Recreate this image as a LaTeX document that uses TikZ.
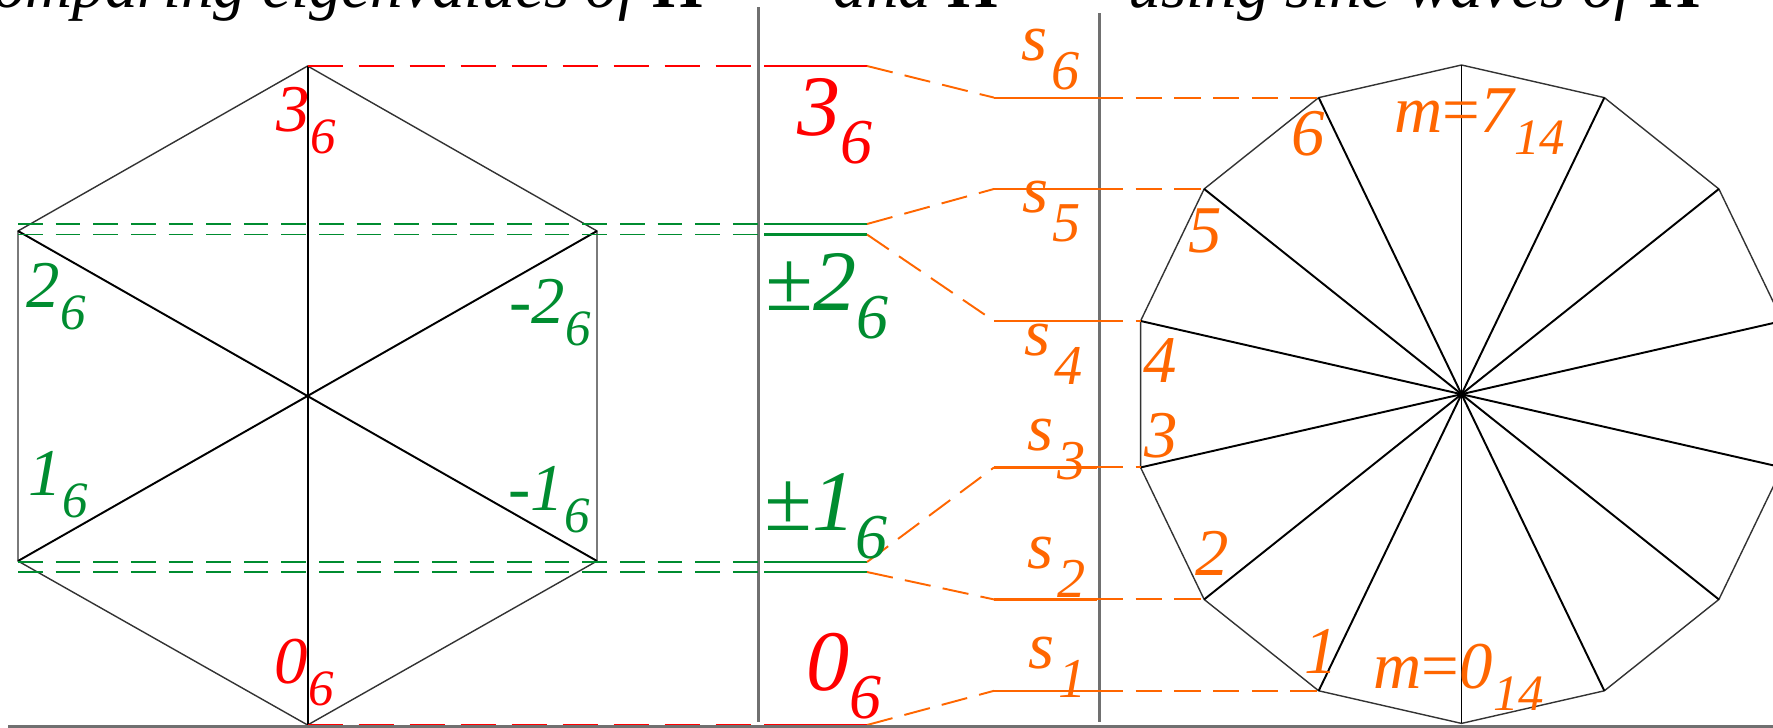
\documentclass[tikz,border=0pt]{standalone}
\usepackage{fontspec}
\setmainfont{Liberation Serif}
\usepackage{tikz}
\usetikzlibrary{positioning}
\definecolor{evred}{RGB}{255,0,0}
\definecolor{evgreen}{RGB}{0,140,48}
\definecolor{sineorange}{RGB}{255,102,0}
\definecolor{rulegray}{RGB}{112,112,112}

\newcommand{\lsub}[1]{\raisebox{-2.25mm}{\fontsize{14.5}{15}\selectfont #1}}
\newcommand{\msub}[1]{\raisebox{-2.8mm}{\fontsize{18.2}{19}\selectfont #1}}
\newcommand{\ssub}[1]{\kern0.06em\raisebox{-2.9mm}{\fontsize{16}{17}\selectfont #1}}

\begin{document}
\begin{tikzpicture}[x=0.01cm, y=-0.01cm,
    polyedge/.style={black!80, line width=0.4pt},
    spoke/.style={black, line width=0.55pt},
    divider/.style={rulegray, line width=0.6pt},
    evlevel/.style={line width=0.6pt},
    reddash/.style={evred, line width=0.5pt, dash pattern=on 10pt off 4.5pt},
    greendash/.style={evgreen, line width=0.5pt, dash pattern=on 7pt off 3.7pt},
    orangedash/.style={sineorange, line width=0.55pt, dash pattern=on 7.5pt off 3.5pt},
    lab/.style={inner sep=0pt, anchor=base west, font=\fontsize{19}{20}\selectfont\itshape},
    biglab/.style={inner sep=0pt, anchor=base west, font=\fontsize{24.5}{26}\selectfont\itshape},
    headtext/.style={inner sep=0pt, font=\fontsize{18.5}{20}\selectfont\itshape}
]
\useasboundingbox (0,0) rectangle (1773,727);
\clip (0,0) rectangle (1773,727);

% title, cut off at the top
\node[headtext, anchor=base east] (head1) at (704,7) {Comparing eigenvalues of {\upshape\bfseries H}};
\node[headtext, anchor=base west] (head2) at (833,7) {and {\upshape\bfseries H}};
\node[headtext, anchor=base west] (head3) at (1128,7) {using sine waves of {\upshape\bfseries H}};

\draw[divider] (758.5,7) -- (758.5,722);
\draw[divider] (1099.5,13) -- (1099.5,722);

% hexagon
\coordinate (hc) at (307.6,395.5);
\coordinate (h0) at (307.6,725);
\coordinate (h1) at (18,561);
\coordinate (h2) at (18,231);
\coordinate (h3) at (307.6,66);
\coordinate (h4) at (597,231);
\coordinate (h5) at (597,561);
\draw[polyedge] (h0) -- (h1) -- (h2) -- (h3) -- (h4) -- (h5) -- cycle;
\foreach \i/\j in {0/3,1/4,2/5} \draw[spoke] (h\i) -- (h\j);

% 14-gon
\coordinate (qc) at (1461.5,394.2);
\foreach \k in {0,...,13} \coordinate (q\k) at ([shift={(qc)}] {90+\k*360/14}:329.2);
\draw[polyedge] (q0) \foreach \k in {1,...,13} {-- (q\k)} -- cycle;
\foreach \k in {0,...,6} {\pgfmathtruncatemacro\j{\k+7} \draw[spoke] (q\k) -- (q\j);}

% level columns
\coordinate (el) at (764,0);
\coordinate (er) at (867,0);
\coordinate (sl) at (994,0);
\coordinate (sr) at (1097,0);
\coordinate (g2a) at (0,224);
\coordinate (g2b) at (0,234.5);
\coordinate (g1a) at (0,562);
\coordinate (g1b) at (0,572);

\draw[reddash] (h3) -- (el |- h3);
\draw[evlevel, evred] (el |- h3) -- (er |- h3);
\draw[reddash] (h0) -- (el |- h0);
\draw[evlevel, evred] (el |- h0) -- (er |- h0);
\foreach \g in {g2a,g2b} \draw[greendash] (h2 |- \g) -- (el |- \g);
\foreach \g in {g1a,g1b} \draw[greendash] (h1 |- \g) -- (el |- \g);
\foreach \g in {g2a,g2b,g1a,g1b} \draw[evlevel, evgreen] (el |- \g) -- (er |- \g);

\foreach \k in {1,...,6} {
  \draw[evlevel, sineorange] (sl |- q\k) -- (sr |- q\k);
  \draw[orangedash] (sr |- q\k) -- (q\k);
}
\draw[orangedash] (er |- h3) -- (sl |- q6);
\draw[orangedash] (er |- g2a) -- (sl |- q5);
\draw[orangedash] (er |- g2b) -- (sl |- q4);
\draw[orangedash] (er |- g1a) -- (sl |- q3);
\draw[orangedash] (er |- g1b) -- (sl |- q2);
\draw[orangedash] (er |- h0) -- (sl |- q1);

\draw[divider] (8,726.5) -- (1773,726.5);

% labels
\node[lab, text=evred] (h3lab) at (276,131) {3\lsub{6}};
\node[lab, text=evgreen] (h2lab) at (26,307) {2\lsub{6}};
\node[lab, text=evgreen] (h4lab) at (509,323) {-2\lsub{6}};
\node[lab, text=evgreen] (h1lab) at (28,495) {1\lsub{6}};
\node[lab, text=evgreen] (h5lab) at (508,510) {-1\lsub{6}};
\node[lab, text=evred] (h0lab) at (274,683) {0\lsub{6}};

\node[biglab, text=evred] (m3) at (797,135) {3\msub{6}};
\node[biglab, text=evgreen] (m2) at (765,310) {±2\msub{6}};
\node[biglab, text=evgreen] (m1) at (764,530) {±1\msub{6}};
\node[biglab, text=evred] (m0) at (806,690) {0\msub{6}};

\node[lab, text=sineorange] (s6) at (1021,60) {s\ssub{6}};
\node[lab, text=sineorange] (s5) at (1022,212) {s\ssub{5}};
\node[lab, text=sineorange] (s4) at (1024,355) {s\ssub{4}};
\node[lab, text=sineorange] (s3) at (1027,450) {s\ssub{3}};
\node[lab, text=sineorange] (s2) at (1027,568) {s\ssub{2}};
\node[lab, text=sineorange] (s1) at (1028,668) {s\ssub{1}};

\node[lab, text=sineorange] (q6lab) at (1291,155) {6};
\node[lab, text=sineorange] (q5lab) at (1188,252) {5};
\node[lab, text=sineorange] (q4lab) at (1143,382) {4};
\node[lab, text=sineorange] (q3lab) at (1144,457) {3};
\node[lab, text=sineorange] (q2lab) at (1195,575) {2};
\node[lab, text=sineorange] (q1lab) at (1304,673) {1};
\node[lab, text=sineorange] (q7lab) at (1394,132) {m{\upshape =}7\lsub{14}};
\node[lab, text=sineorange] (q0lab) at (1373,688) {m{\upshape =}0\lsub{14}};

\end{tikzpicture}
\end{document}
